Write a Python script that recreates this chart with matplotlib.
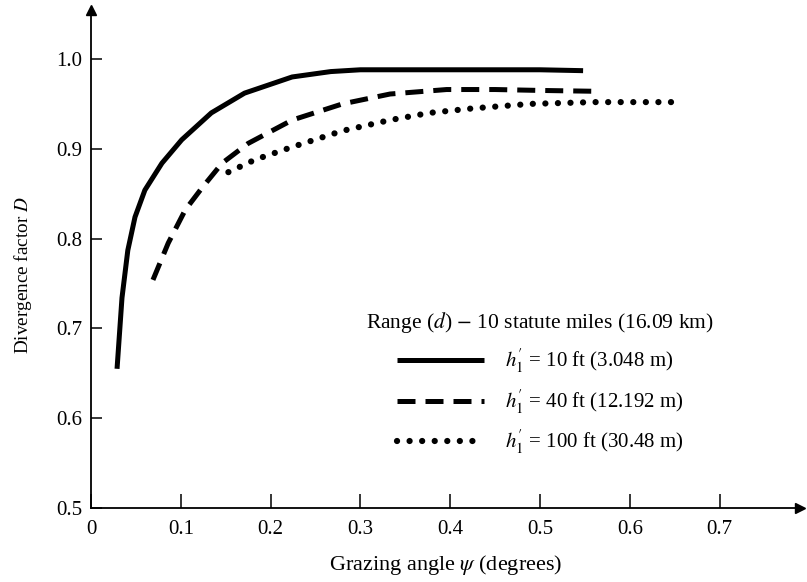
import matplotlib.pyplot as plt

plt.rcParams['font.family'] = ['Liberation Serif', 'DejaVu Serif']
plt.rcParams['mathtext.fontset'] = 'stix'

# values
psi_10 = [0.029, 0.0345, 0.041, 0.049, 0.060, 0.079, 0.101, 0.134, 0.171, 0.224, 0.267, 0.300, 0.400, 0.500, 0.548]
d_10 = [0.655, 0.734, 0.787, 0.824, 0.854, 0.884, 0.910, 0.940, 0.962, 0.980, 0.986, 0.988, 0.988, 0.988, 0.987]

psi_40 = [0.069, 0.086, 0.105, 0.124, 0.146, 0.175, 0.224, 0.280, 0.333, 0.396, 0.450, 0.500, 0.565]
d_40 = [0.754, 0.795, 0.832, 0.857, 0.884, 0.906, 0.932, 0.950, 0.961, 0.966, 0.966, 0.965, 0.964]

psi_100 = [0.153, 0.183, 0.224, 0.280, 0.333, 0.377, 0.425, 0.489, 0.560, 0.648]
d_100 = [0.874, 0.888, 0.902, 0.920, 0.932, 0.940, 0.945, 0.950, 0.952, 0.952]

labels = [r"$h_1'$ = 10 ft (3.048 m)", r"$h_1'$ = 40 ft (12.192 m)", r"$h_1'$ = 100 ft (30.48 m)"]
xticks = [0, 0.1, 0.2, 0.3, 0.4, 0.5, 0.6, 0.7]
xticklabels = ['0', '0.1', '0.2', '0.3', '0.4', '0.5', '0.6', '0.7']
yticks = [0.5, 0.6, 0.7, 0.8, 0.9, 1.0]

fig = plt.figure(figsize=(8.07, 5.82), dpi=100)
ax = fig.add_axes([91/807, 74/582, 709/807, 498/582])
ax.set_xlim(0, 709/898)
ax.set_ylim(0.5, 0.5 + 498/898)

ax.plot(psi_10, d_10, color='black', lw=3.6, solid_capstyle='butt', solid_joinstyle='round', label=labels[0])
ax.plot(psi_40, d_40, color='black', lw=3.6, linestyle=(0, (3.6, 2.0)), dash_capstyle='butt', label=labels[1])
ax.plot(psi_100, d_100, color='black', lw=4.5, linestyle=(0, (0.01, 2.0)), dash_capstyle='round', label=labels[2])

for s in ['top', 'right']:
    ax.spines[s].set_visible(False)
for s in ['left', 'bottom']:
    ax.spines[s].set_linewidth(1.3)
# axis arrows
ax.plot(1, 0, '>k', ms=7, transform=ax.transAxes, clip_on=False)
ax.plot(0, 1, '^k', ms=7, transform=ax.transAxes, clip_on=False)

ax.set_xticks(xticks)
ax.set_xticklabels(xticklabels)
ax.set_yticks(yticks)
ax.tick_params(axis='x', direction='in', length=10, width=1.1, labelsize=15, pad=9)
ax.tick_params(axis='y', direction='in', length=8, width=1.1, labelsize=15, pad=6)

ax.set_xlabel(r"Grazing angle $\psi$ (degrees)", fontsize=16, labelpad=10)
ax.set_ylabel(r"Divergence factor $D$", fontsize=13.8)
ax.yaxis.set_label_coords(-0.080, (508 - 275) / 498)

leg = ax.legend(title=r"Range ($d$) $-$ 10 statute miles (16.09 km)", frameon=False,
                loc='upper left', bbox_to_anchor=(0.362, 0.435), fontsize=15, title_fontsize=15.5,
                handlelength=4.2, handletextpad=1.0, labelspacing=0.62)
leg._legend_box.align = 'center'

fig.savefig('out.png', dpi=100)
